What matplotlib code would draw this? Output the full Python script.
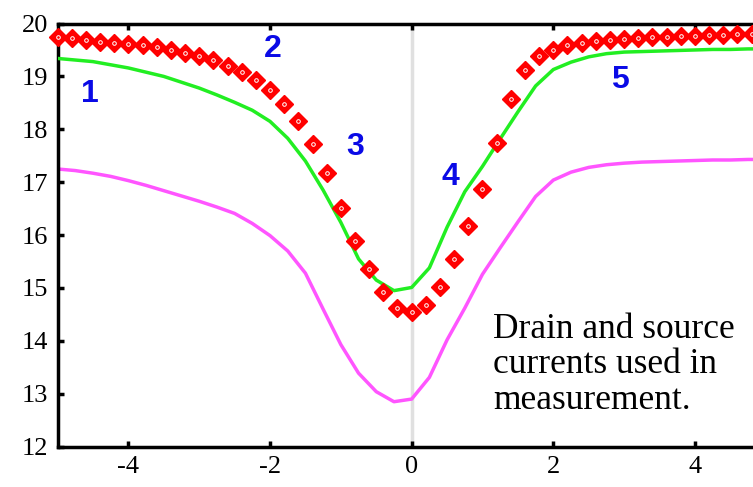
import numpy as np
import matplotlib.pyplot as plt

plt.rcParams['axes.unicode_minus'] = False
plt.rcParams['font.family'] = ['Liberation Serif', 'DejaVu Serif']

# measured points (red diamonds), step 0.2
x_meas = np.round(np.arange(-5, 5.01, 0.2), 2)
y_meas = [19.75, 19.72, 19.69, 19.66, 19.64, 19.62, 19.59, 19.55, 19.50, 19.45,
          19.39, 19.31, 19.20, 19.09, 18.93, 18.74, 18.48, 18.16, 17.72, 17.17,
          16.51, 15.89, 15.36, 14.92, 14.63, 14.54, 14.67, 15.02, 15.55, 16.17,
          16.88, 17.74, 18.57, 19.12, 19.39, 19.50, 19.60, 19.64, 19.67, 19.69,
          19.71, 19.72, 19.74, 19.75, 19.76, 19.77, 19.78, 19.79, 19.80, 19.81,
          19.82]

# model curves, step 0.25
x_model = np.round(np.arange(-5, 5.01, 0.25), 2)
y_green = [19.34, 19.31, 19.28, 19.22, 19.16, 19.08, 19.00, 18.89, 18.78, 18.65,
           18.51, 18.36, 18.15, 17.83, 17.40, 16.85, 16.24, 15.55, 15.15, 14.95,
           15.01, 15.38, 16.15, 16.82, 17.30, 17.82, 18.33, 18.82, 19.13, 19.27,
           19.37, 19.43, 19.46, 19.47, 19.48, 19.49, 19.50, 19.51, 19.51, 19.52,
           19.52]
y_magenta = [17.25, 17.22, 17.17, 17.11, 17.03, 16.94, 16.84, 16.74, 16.64, 16.53,
             16.41, 16.22, 15.99, 15.70, 15.28, 14.60, 13.93, 13.39, 13.04, 12.85,
             12.90, 13.31, 14.02, 14.62, 15.26, 15.76, 16.25, 16.73, 17.04, 17.19,
             17.28, 17.33, 17.36, 17.38, 17.39, 17.40, 17.41, 17.42, 17.42, 17.43,
             17.43]

region_labels = ['1', '2', '3', '4', '5']
region_x = [-4.55, -1.96, -0.8, 0.54, 2.94]
region_y = [18.66, 19.52, 17.66, 17.1, 18.93]

fig = plt.figure(figsize=(7.53, 4.87), dpi=100)
ax = fig.add_axes([0.0764, 0.0828, 0.9406, 0.8689])

ax.axvline(0, color='#e0e0e0', lw=2.5, zorder=1)
ax.plot(x_model, y_magenta, color='#ff55ff', lw=2.5, zorder=2)
ax.plot(x_model, y_green, color='#22ee22', lw=2.5, zorder=3)
ax.plot(x_meas, y_meas, ls='none', marker='D', ms=8.8, mfc='#ff0000',
        mec='#ff0000', mew=1, zorder=4, clip_on=False)
ax.plot(x_meas, y_meas, ls='none', marker='o', ms=2.6, mfc='none',
        mec='white', mew=0.7, zorder=5, clip_on=False)

for lab, tx, ty in zip(region_labels, region_x, region_y):
    ax.text(tx, ty, lab, color='#0a0ae6', fontsize=23, fontweight='bold',
            family='Liberation Sans', ha='center', va='center')

ax.text(1.15, 13.55, 'Drain and source\ncurrents used in\nmeasurement.',
        fontsize=25.5, linespacing=1.1, ha='left', va='center')

ax.set_xlim(-5, 5)
ax.set_ylim(12, 20)
ax.set_xticks([-4, -2, 0, 2, 4])
ax.set_yticks(range(12, 21))
for sp in ax.spines.values():
    sp.set_linewidth(2.5)
ax.tick_params(direction='in', length=4, width=2.5, top=True, right=True,
               labelsize=19, pad=7)

fig.savefig('out.png', dpi=100)
